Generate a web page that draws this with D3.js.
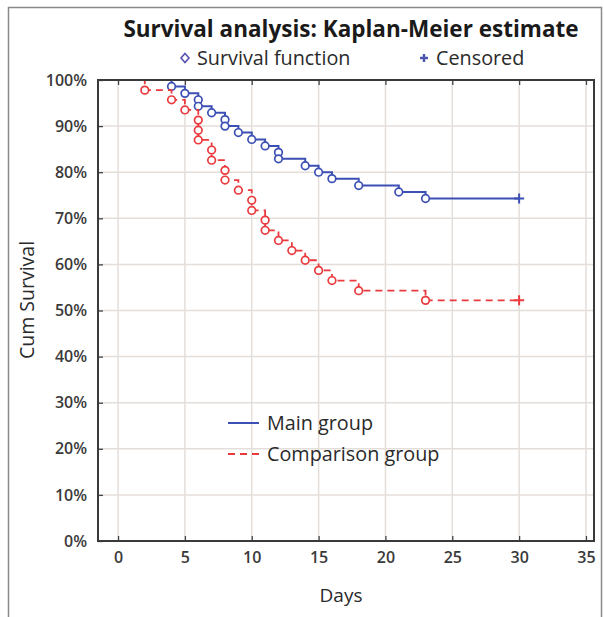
<!DOCTYPE html>
<html>
<head>
<meta charset="utf-8">
<script src="https://cdn.jsdelivr.net/npm/d3@7"></script>
<style>
  html, body { margin: 0; padding: 0; background: #fff; }
  svg { display: block; font-family: "Open Sans", "Noto Sans", sans-serif; }
</style>
</head>
<body>
<svg id="chart" width="604" height="617"></svg>
<script>
// ---- data ----
const mainDays   = [4, 5, 6, 6, 7, 8, 8, 9, 10, 11, 12, 12, 14, 15, 16, 18, 21, 23];
const mainSurv   = [0.986, 0.971, 0.957, 0.943, 0.929, 0.914, 0.900, 0.886, 0.871, 0.857, 0.843, 0.829, 0.814, 0.800, 0.786, 0.771, 0.757, 0.743];
const mainCensorDay = 30;

const compDays   = [2, 4, 5, 6, 6, 6, 7, 7, 8, 8, 9, 10, 10, 11, 11, 12, 13, 14, 15, 16, 18, 23];
const compSurv   = [0.978, 0.957, 0.935, 0.913, 0.891, 0.870, 0.848, 0.826, 0.804, 0.783, 0.761, 0.739, 0.717, 0.696, 0.674, 0.652, 0.630, 0.609, 0.587, 0.565, 0.543, 0.522];
const compCensorDay = 30;

const xTicks = [0, 5, 10, 15, 20, 25, 30, 35];
const yTicks = [0, 0.1, 0.2, 0.3, 0.4, 0.5, 0.6, 0.7, 0.8, 0.9, 1.0];

const groupNames = ["Main group", "Comparison group"];
const blue = "#3c4fb4";
const red = "#ea3a3e";

// ---- layout ----
const svg = d3.select("#chart");
const L = 98, R = 594, T = 80, B = 541;
const x = d3.scaleLinear().domain([-1.5, 35.6]).range([L, R]);
const y = d3.scaleLinear().domain([0, 1]).range([B, T]);

// outer border
svg.append("rect").attr("x", 8.5).attr("y", 7.5).attr("width", 593).attr("height", 620)
  .attr("fill", "none").attr("stroke", "#8a8a8a").attr("stroke-width", 1.5);

// grid
const grid = svg.append("g");
grid.selectAll(".gx").data(xTicks).join("line")
  .attr("x1", d => x(d)).attr("x2", d => x(d)).attr("y1", T).attr("y2", B)
  .attr("stroke", "#e4deda").attr("stroke-width", 1.5);
grid.selectAll(".gy").data(yTicks).join("line")
  .attr("y1", d => y(d)).attr("y2", d => y(d)).attr("x1", L).attr("x2", R)
  .attr("stroke", "#e4deda").attr("stroke-width", 1.5);

// series
function buildPoints(days, surv, cDay) {
  const pts = [[0, 1]];
  days.forEach((d, i) => pts.push([d, surv[i]]));
  pts.push([cDay, surv[surv.length - 1]]);
  return pts;
}
const line = d3.line().x(d => x(d[0])).y(d => y(d[1])).curve(d3.curveStepAfter);

const series = [
  { days: mainDays, surv: mainSurv, c: mainCensorDay, color: blue, dash: null, w: 2 },
  { days: compDays, surv: compSurv, c: compCensorDay, color: red, dash: "7,5", w: 1.8 }
];

series.forEach(s => {
  const pts = buildPoints(s.days, s.surv, s.c);
  svg.append("path").datum(pts).attr("d", line)
    .attr("fill", "none").attr("stroke", s.color).attr("stroke-width", s.w)
    .attr("stroke-dasharray", s.dash);
  svg.append("g").selectAll("circle").data(s.days.map((d, i) => [d, s.surv[i]])).join("circle")
    .attr("cx", d => x(d[0])).attr("cy", d => y(d[1])).attr("r", 3.8)
    .attr("fill", "#fff").attr("stroke", s.color).attr("stroke-width", 1.7);
  const cx = x(s.c), cy = y(s.surv[s.surv.length - 1]);
  svg.append("path").attr("d", `M${cx - 5},${cy}H${cx + 5}M${cx},${cy - 5}V${cy + 5}`)
    .attr("stroke", s.color).attr("stroke-width", 2).attr("fill", "none");
});

// axes
const xAxis = d3.axisBottom(x).tickValues(xTicks).tickSizeInner(-5).tickSizeOuter(0).tickPadding(11).tickFormat(d3.format("d"));
const yAxis = d3.axisLeft(y).tickValues(yTicks).tickSizeInner(-5).tickSizeOuter(0).tickPadding(11).tickFormat(d3.format(".0%"));
const xTop = d3.axisTop(x).tickValues(xTicks).tickSizeInner(-5).tickSizeOuter(0).tickFormat("");

const gx = svg.append("g").attr("transform", `translate(0,${B})`).call(xAxis);
const gy = svg.append("g").attr("transform", `translate(${L},0)`).call(yAxis);
const gt = svg.append("g").attr("transform", `translate(0,${T})`).call(xTop);
[gx, gy, gt].forEach(g => {
  g.select(".domain").remove();
  g.selectAll(".tick line").attr("stroke", "#444").attr("stroke-width", 1.3);
  g.selectAll(".tick text").attr("fill", "#3a3a3a").attr("font-size", 16).attr("font-weight", 600)
    .attr("font-family", "'Open Sans', sans-serif");
});

// frame
svg.append("rect").attr("x", L).attr("y", T).attr("width", R - L).attr("height", B - T)
  .attr("fill", "none").attr("stroke", "#3a3a3a").attr("stroke-width", 2);

// title
svg.append("text").attr("x", 351).attr("y", 37).attr("text-anchor", "middle")
  .attr("font-size", 22.5).attr("font-weight", 700).attr("fill", "#1a1a1a")
  .text("Survival analysis: Kaplan-Meier estimate");

// top legend
const lc = "#5852b0";
svg.append("path").attr("d", "M185,53.5 L189,58 L185,62.5 L181,58 Z")
  .attr("fill", "none").attr("stroke", lc).attr("stroke-width", 1.6);
svg.append("text").attr("x", 197).attr("y", 65).attr("font-size", 19.8).attr("fill", "#2a2a2a")
  .text("Survival function");
svg.append("path").attr("d", "M420,58 H428 M424,54 V62")
  .attr("stroke", "#4a55b0").attr("stroke-width", 2.4);
svg.append("text").attr("x", 436).attr("y", 65).attr("font-size", 19.8).attr("fill", "#2a2a2a")
  .text("Censored");

// inner legend
const leg = svg.append("g");
series.forEach((s, i) => {
  const ly = 423 + i * 31;
  leg.append("line").attr("x1", 228).attr("x2", 259).attr("y1", ly).attr("y2", ly)
    .attr("stroke", s.color).attr("stroke-width", s.w).attr("stroke-dasharray", s.dash);
  leg.append("text").attr("x", 267).attr("y", ly + 7).attr("font-size", 19.8).attr("fill", "#2a2a2a")
    .text(groupNames[i]);
});

// axis titles
svg.append("text").attr("transform", "translate(34,300) rotate(-90)").attr("text-anchor", "middle")
  .attr("font-size", 19.5).attr("fill", "#2a2a2a").text("Cum Survival");
svg.append("text").attr("x", 341).attr("y", 602).attr("text-anchor", "middle")
  .attr("font-size", 19).attr("fill", "#2a2a2a").text("Days");
</script>
</body>
</html>
